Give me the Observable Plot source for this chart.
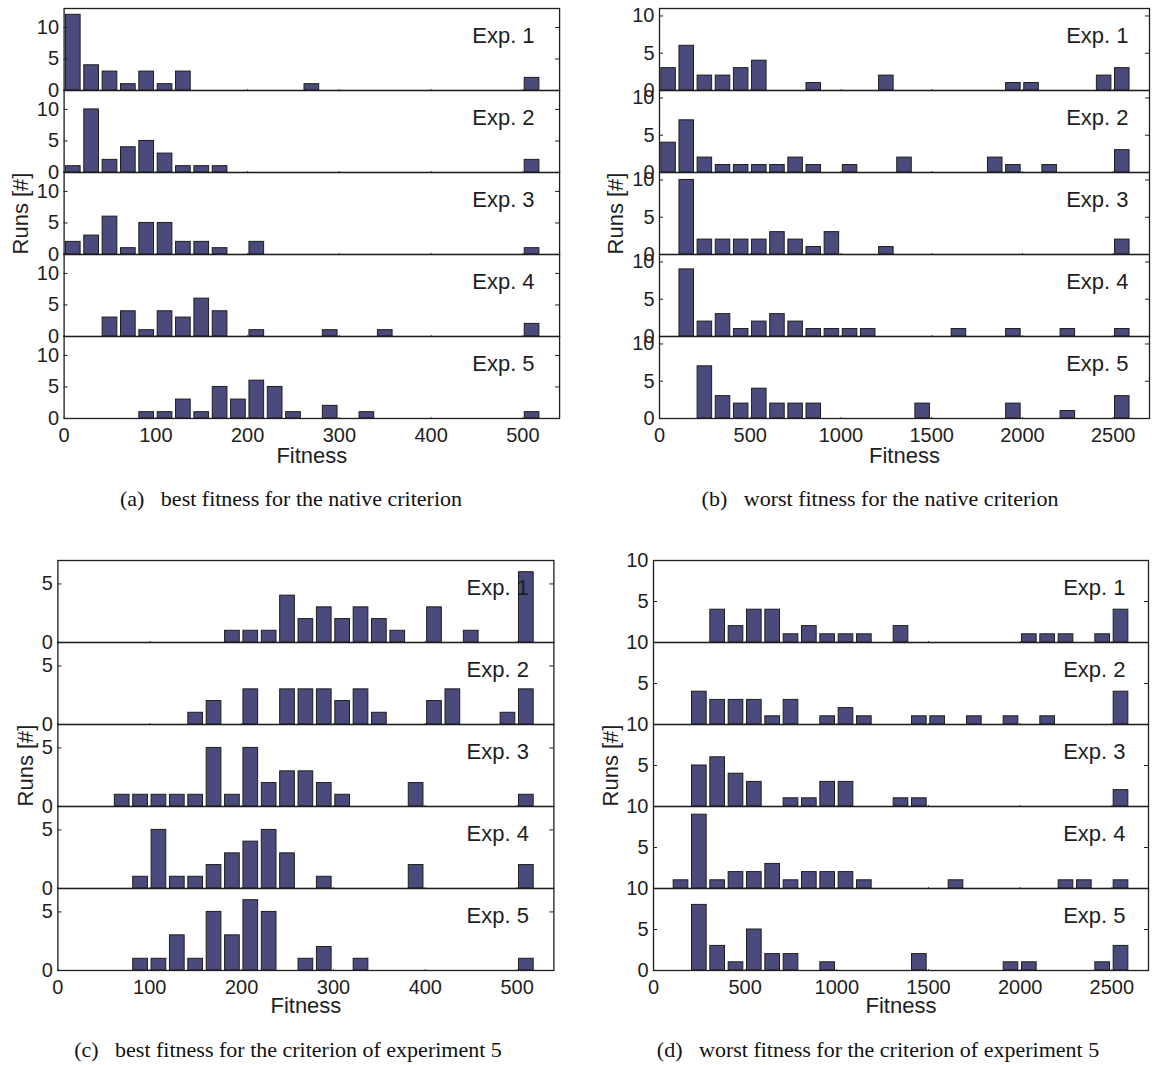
<!DOCTYPE html>
<html><head><meta charset="utf-8">
<script src="https://cdn.jsdelivr.net/npm/d3@7"></script>
<script src="https://cdn.jsdelivr.net/npm/@observablehq/plot@0.6"></script>
<style>
body{margin:0;background:#fff;}
#fig{position:relative;width:1152px;height:1065px;overflow:hidden;font-family:"Liberation Sans",Arial,sans-serif;}
.panel{position:absolute;}
.panel svg{overflow:visible;}
.cap{position:absolute;font-family:"Liberation Serif","Times New Roman",serif;font-size:22px;white-space:pre;transform:translateX(-50%);line-height:22px;color:#111;}
</style></head><body><div id="fig"></div>
<script>
const experiments = [1, 2, 3, 4, 5];

// (a) best fitness, native criterion: [bin centre, runs]
const bestNative = [
  [[10,12],[30,4],[50,3],[70,1],[90,3],[110,1],[130,3],[270,1],[510,2]],
  [[10,1],[30,10],[50,2],[70,4],[90,5],[110,3],[130,1],[150,1],[170,1],[510,2]],
  [[10,2],[30,3],[50,6],[70,1],[90,5],[110,5],[130,2],[150,2],[170,1],[210,2],[510,1]],
  [[50,3],[70,4],[90,1],[110,4],[130,3],[150,6],[170,4],[210,1],[290,1],[350,1],[510,2]],
  [[90,1],[110,1],[130,3],[150,1],[170,5],[190,3],[210,6],[230,5],[250,1],[290,2],[330,1],[510,1]]
];
// (b) worst fitness, native criterion
const worstNative = [
  [[50,3],[150,6],[250,2],[350,2],[450,3],[550,4],[850,1],[1250,2],[1950,1],[2050,1],[2450,2],[2550,3]],
  [[50,4],[150,7],[250,2],[350,1],[450,1],[550,1],[650,1],[750,2],[850,1],[1050,1],[1350,2],[1850,2],[1950,1],[2150,1],[2550,3]],
  [[150,10],[250,2],[350,2],[450,2],[550,2],[650,3],[750,2],[850,1],[950,3],[1250,1],[2550,2]],
  [[150,9],[250,2],[350,3],[450,1],[550,2],[650,3],[750,2],[850,1],[950,1],[1050,1],[1150,1],[1650,1],[1950,1],[2250,1],[2550,1]],
  [[250,7],[350,3],[450,2],[550,4],[650,2],[750,2],[850,2],[1450,2],[1950,2],[2250,1],[2550,3]]
];
// (c) best fitness, criterion of experiment 5
const bestExp5 = [
  [[190,1],[210,1],[230,1],[250,4],[270,2],[290,3],[310,2],[330,3],[350,2],[370,1],[410,3],[450,1],[510,6]],
  [[150,1],[170,2],[210,3],[250,3],[270,3],[290,3],[310,2],[330,3],[350,1],[410,2],[430,3],[490,1],[510,3]],
  [[70,1],[90,1],[110,1],[130,1],[150,1],[170,5],[190,1],[210,5],[230,2],[250,3],[270,3],[290,2],[310,1],[390,2],[510,1]],
  [[90,1],[110,5],[130,1],[150,1],[170,2],[190,3],[210,4],[230,5],[250,3],[290,1],[390,2],[510,2]],
  [[90,1],[110,1],[130,3],[150,1],[170,5],[190,3],[210,6],[230,5],[270,1],[290,2],[330,1],[510,1]]
];
// (d) worst fitness, criterion of experiment 5
const worstExp5 = [
  [[350,4],[450,2],[550,4],[650,4],[750,1],[850,2],[950,1],[1050,1],[1150,1],[1350,2],[2050,1],[2150,1],[2250,1],[2450,1],[2550,4]],
  [[250,4],[350,3],[450,3],[550,3],[650,1],[750,3],[950,1],[1050,2],[1150,1],[1450,1],[1550,1],[1750,1],[1950,1],[2150,1],[2550,4]],
  [[250,5],[350,6],[450,4],[550,3],[750,1],[850,1],[950,3],[1050,3],[1350,1],[1450,1],[2550,2]],
  [[150,1],[250,9],[350,1],[450,2],[550,2],[650,3],[750,1],[850,2],[950,2],[1050,2],[1150,1],[1650,1],[2250,1],[2350,1],[2550,1]],
  [[250,8],[350,3],[450,1],[550,5],[650,2],[750,2],[950,1],[1450,2],[1950,1],[2050,1],[2450,1],[2550,3]]
];

const ticksBest = [0, 100, 200, 300, 400, 500];
const ticksWorst = [0, 500, 1000, 1500, 2000, 2500];
const captions = [
  "(a)\u2002 best fitness for the native criterion",
  "(b)\u2002 worst fitness for the native criterion",
  "(c)\u2002 best fitness for the criterion of experiment 5",
  "(d)\u2002 worst fitness for the criterion of experiment 5"
];

const barFill = "#4b4a7d";
const ink = "#1e1e1e";
const fig = document.getElementById("fig");

function panel(cfg) {
  const rows = cfg.data.flatMap((list, i) => list.map(([center, count]) => ({exp: experiments[i], center, count})));
  const half = cfg.binWidth * 0.4;
  const yLen = cfg.yMax * 4 / cfg.plotH;
  const xLen = cfg.xMax * 4 / cfg.plotW;
  // when the top tick equals the domain top, the zero label of the facet above is hidden under it
  const zeroOnlyBottom = cfg.yTicks[cfg.yTicks.length - 1] === cfg.yMax;
  const axisTicks = zeroOnlyBottom ? cfg.yTicks.filter(t => t !== 0) : cfg.yTicks;
  const chart = Plot.plot({
    width: cfg.mLeft + cfg.plotW + cfg.mRight,
    height: cfg.mTop + cfg.plotH + cfg.mBottom,
    marginLeft: cfg.mLeft, marginRight: cfg.mRight, marginTop: cfg.mTop, marginBottom: cfg.mBottom,
    style: {fontFamily: "'Liberation Sans', Arial, sans-serif", fontSize: "20px", color: ink, background: "transparent"},
    x: {domain: [0, cfg.xMax]},
    y: {domain: [0, cfg.yMax]},
    fy: {domain: experiments, padding: 0, axis: null},
    marks: [
      Plot.rect(rows, {x1: d => d.center - half, x2: d => d.center + half, y1: 0, y2: "count", fy: "exp", fill: barFill, stroke: ink, strokeWidth: 1}),
      Plot.ruleX(cfg.xTicks, {y1: 0, y2: yLen, stroke: ink}),
      Plot.ruleX(cfg.xTicks, {y1: cfg.yMax - yLen, y2: cfg.yMax, stroke: ink}),
      Plot.ruleY(cfg.yTicks, {x1: 0, x2: xLen, stroke: ink}),
      Plot.ruleY(cfg.yTicks, {x1: cfg.xMax - xLen, x2: cfg.xMax, stroke: ink}),
      Plot.frame({stroke: ink, strokeWidth: 1.3}),
      Plot.axisY({ticks: axisTicks, tickSize: 0, tickPadding: 5, label: null, tickFormat: d => String(d), fontSize: 20}),
      zeroOnlyBottom ? Plot.text([5], {fy: d => d, x: 0, y: 0, text: () => "0", textAnchor: "end", lineAnchor: "middle", dx: -5, fontSize: 20, fill: ink}) : null,
      Plot.axisX({ticks: cfg.xTicks, tickSize: 0, tickPadding: 9, label: null, tickFormat: d => String(d), fontSize: 20}),
      Plot.text(experiments, {fy: d => d, text: d => `Exp. ${d}`, frameAnchor: "top-right", dx: cfg.expDx, dy: 27, textAnchor: "end", lineAnchor: "middle", fontSize: 22, fill: ink}),
      Plot.text([3], {fy: d => d, text: () => "Runs [#]", frameAnchor: "left", rotate: -90, dx: -cfg.runsDx, textAnchor: "middle", lineAnchor: "middle", fontSize: 22, fill: ink}),
      Plot.text([5], {fy: d => d, text: () => "Fitness", frameAnchor: "bottom", dy: cfg.fitDy, textAnchor: "middle", lineAnchor: "middle", fontSize: 22, fill: ink})
    ]
  });
  const wrap = document.createElement("div");
  wrap.className = "panel";
  wrap.style.left = cfg.left + "px";
  wrap.style.top = cfg.top + "px";
  wrap.appendChild(chart);
  fig.appendChild(wrap);
  const cap = document.createElement("div");
  cap.className = "cap";
  cap.textContent = cfg.caption;
  cap.style.left = cfg.capX + "px";
  cap.style.top = (cfg.capY - 11) + "px";
  fig.appendChild(cap);
}

panel({data: bestNative, binWidth: 20, xMax: 540, xTicks: ticksBest, yMax: 13, yTicks: [0, 5, 10],
  left: 0, top: 0, mLeft: 63.6, plotW: 495.5, mRight: 12, mTop: 6, plotH: 414, mBottom: 60,
  expDx: -25, runsDx: 43, fitDy: 37, caption: captions[0], capX: 291, capY: 499});
panel({data: worstNative, binWidth: 100, xMax: 2700, xTicks: ticksWorst, yMax: 11, yTicks: [0, 5, 10],
  left: 590, top: 0, mLeft: 69, plotW: 490, mRight: 2, mTop: 6, plotH: 414, mBottom: 60,
  expDx: -21, runsDx: 44, fitDy: 37, caption: captions[1], capX: 880, capY: 499});
panel({data: bestExp5, binWidth: 20, xMax: 540, xTicks: ticksBest, yMax: 7, yTicks: [0, 5],
  left: 0, top: 550, mLeft: 57.4, plotW: 496, mRight: 12, mTop: 8.5, plotH: 412.5, mBottom: 60,
  expDx: -25, runsDx: 32, fitDy: 35, caption: captions[2], capX: 288, capY: 1050});
panel({data: worstExp5, binWidth: 100, xMax: 2700, xTicks: ticksWorst, yMax: 10, yTicks: [0, 5, 10],
  left: 590, top: 550, mLeft: 63, plotW: 495, mRight: 4, mTop: 8, plotH: 413, mBottom: 60,
  expDx: -23, runsDx: 43, fitDy: 35, caption: captions[3], capX: 878, capY: 1050});
</script></body></html>
